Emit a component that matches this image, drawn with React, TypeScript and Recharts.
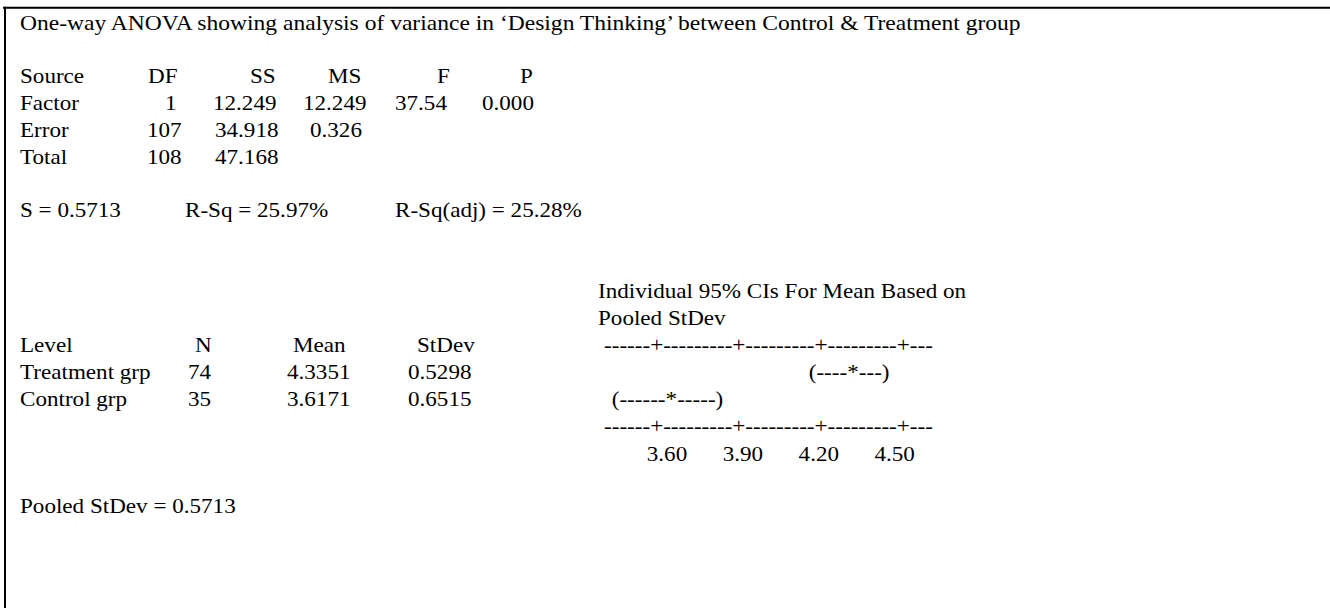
import React from 'react';
import { ScatterChart, Scatter, XAxis, YAxis, Customized } from 'recharts';

// ---- Data ----
const title = 'One-way ANOVA showing analysis of variance in \u2018Design Thinking\u2019 between Control & Treatment group';
const anovaHeader = ['Source', 'DF', 'SS', 'MS', 'F', 'P'];
const anovaSources = ['Factor', 'Error', 'Total'];
const anovaDF = ['1', '107', '108'];
const anovaSS = ['12.249', '34.918', '47.168'];
const anovaMS = ['12.249', '0.326', ''];
const anovaF = ['37.54', '', ''];
const anovaP = ['0.000', '', ''];
const fitStats = ['S = 0.5713', 'R-Sq = 25.97%', 'R-Sq(adj) = 25.28%'];
const ciHeading = ['Individual 95% CIs For Mean Based on', 'Pooled StDev'];
const levelHeader = ['Level', 'N', 'Mean', 'StDev'];
const levels = ['Treatment grp', 'Control grp'];
const levelN = ['74', '35'];
const levelMean = [4.3351, 3.6171];
const levelStDev = ['0.5298', '0.6515'];
const ciLeft = ['(----', '(------'];
const ciRight = ['---)', '-----)'];
const axisRule = '------+---------+---------+---------+---';
const axisTicks = [3.6, 3.9, 4.2, 4.5];
const pooledNote = 'Pooled StDev = 0.5713';

const ciData = levels.map((g, i) => ({ group: g, mean: levelMean[i], left: ciLeft[i], right: ciRight[i] }));

const FONT = "'Liberation Serif', 'Times New Roman', serif";

const T = ({ x, y, anchor = 'start', sx = 1.1, children }: any) => (
  <text
    transform={`translate(${x},${y}) scale(${sx},1)`}
    textAnchor={anchor}
    fontFamily={FONT}
    fontSize={21}
    fill="#000"
  >
    {children}
  </text>
);

const headerX = [20, 148, 250, 328, 437, 520];
const rowX = [20, 165, 213, 303, 395, 482];
const rowXAlt = [20, 147, 215, 310, 395, 482];
const rowY = [110, 137, 164];

const TextLayer = () => (
  <g>
    <line x1={3} y1={7.7} x2={1330} y2={7.7} stroke="#000" strokeWidth={2} />
    <line x1={5} y1={6.7} x2={5} y2={608} stroke="#000" strokeWidth={2} />
    <T x={20} y={30} sx={1.121}>{title}</T>
    {anovaHeader.map((h, i) => (
      <T key={h} x={headerX[i]} y={83}>{h}</T>
    ))}
    {anovaSources.map((s, r) => {
      const xs = r === 0 ? rowX : rowXAlt;
      const cells = [s, anovaDF[r], anovaSS[r], anovaMS[r], anovaF[r], anovaP[r]];
      return cells.map((c, i) => (c ? <T key={`${r}-${i}`} x={xs[i]} y={rowY[r]}>{c}</T> : null));
    })}
    <T x={20} y={217}>{fitStats[0]}</T>
    <T x={185} y={217}>{fitStats[1]}</T>
    <T x={395} y={217}>{fitStats[2]}</T>
    <T x={598} y={298}>{ciHeading[0]}</T>
    <T x={598} y={325}>{ciHeading[1]}</T>
    <T x={20} y={352}>{levelHeader[0]}</T>
    <T x={195} y={352}>{levelHeader[1]}</T>
    <T x={293} y={352}>{levelHeader[2]}</T>
    <T x={417} y={352}>{levelHeader[3]}</T>
    <T x={604} y={352}>{axisRule}</T>
    {levels.map((g, i) => (
      <g key={g}>
        <T x={20} y={379 + 27 * i}>{g}</T>
        <T x={188} y={379 + 27 * i}>{levelN[i]}</T>
        <T x={287} y={379 + 27 * i}>{levelMean[i].toFixed(4)}</T>
        <T x={408} y={379 + 27 * i}>{levelStDev[i]}</T>
      </g>
    ))}
    <T x={604} y={433}>{axisRule}</T>
    <T x={20} y={513}>{pooledNote}</T>
  </g>
);

const CIShape = (props: any) => {
  const { cx, cy, payload } = props;
  if (cx == null || cy == null) return null;
  const base = cy + 7;
  return (
    <g>
      <T x={cx - 5.8} y={base} anchor="end">{payload.left}</T>
      <T x={cx} y={base} anchor="middle">*</T>
      <T x={cx + 5.8} y={base} anchor="start">{payload.right}</T>
    </g>
  );
};

const TickLabel = (props: any) => {
  const { x, y, payload } = props;
  return <T x={x} y={y + 40} anchor="middle">{Number(payload.value).toFixed(2)}</T>;
};

export default function App() {
  return (
    <div style={{ position: 'absolute', left: 0, top: 0, background: '#fff' }}>
      <ScatterChart
        width={1330}
        height={608}
        margin={{ top: 358.5, right: 435.3, bottom: 165.5, left: 667 }}
      >
        <Customized component={TextLayer} />
        <XAxis
          type="number"
          dataKey="mean"
          domain={[3.6, 4.5]}
          ticks={axisTicks}
          axisLine={false}
          tickLine={false}
          height={30}
          tick={<TickLabel />}
          interval={0}
        />
        <YAxis type="category" dataKey="group" hide width={0} reversed />
        <Scatter data={ciData} shape={<CIShape />} isAnimationActive={false} />
      </ScatterChart>
    </div>
  );
}
